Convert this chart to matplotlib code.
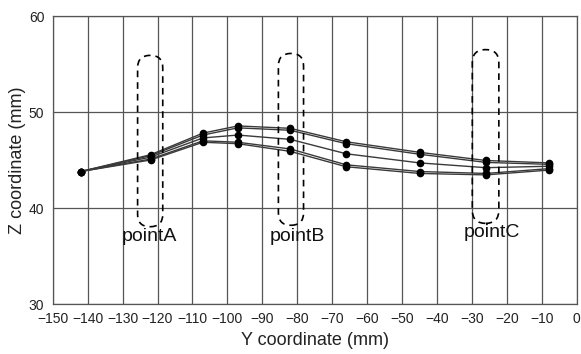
import numpy as np
import matplotlib
matplotlib.use('Agg')
import matplotlib.pyplot as plt
from matplotlib.patches import FancyBboxPatch

plt.rcParams['font.family'] = ['Liberation Sans', 'DejaVu Sans']

# measurement positions (Y coordinate, mm)
ycoord = [-142, -122, -107, -97, -82, -66, -45, -26, -8]

# Z coordinate of each profile (mm)
z1 = [43.8, 45.55, 47.8, 48.55, 48.3, 46.9, 45.8, 44.95, 44.7]
z2 = [43.8, 45.45, 47.6, 48.35, 48.1, 46.7, 45.6, 44.75, 44.55]
z3 = [43.8, 45.3, 47.3, 47.6, 47.15, 45.65, 44.7, 44.2, 44.35]
z4 = [43.8, 45.1, 47.0, 46.85, 46.15, 44.5, 43.8, 43.6, 44.1]
z5 = [43.8, 45.0, 46.85, 46.7, 45.9, 44.3, 43.6, 43.45, 43.95]

# highlighted regions: label, centre, half width, bottom, top
point_names = ['pointA', 'pointB', 'pointC']
point_x = [-122.1, -81.8, -26.1]
point_halfw = [3.6, 3.6, 3.8]
point_lo = [38.05, 38.2, 38.4]
point_hi = [55.9, 56.1, 56.5]
label_x = [-122.3, -80.0, -24.4]
label_y = [37.0, 37.0, 37.4]

fig = plt.figure(figsize=(5.81, 3.54), dpi=100)
ax = fig.add_axes([0.0907, 0.1412, 0.902, 0.8136])

for z in [z1, z2, z3, z4, z5]:
    ax.plot(ycoord, z, '-', color='#3a3a3a', lw=1.0, marker='o', ms=4.5,
            mfc='black', mec='black', zorder=3)

for name, xc, hw, lo, hi, lx, ly in zip(point_names, point_x, point_halfw,
                                        point_lo, point_hi, label_x, label_y):
    box = FancyBboxPatch((xc - hw, lo), 2 * hw, hi - lo,
                         boxstyle='round,pad=0,rounding_size=%g' % hw,
                         mutation_aspect=0.36, fill=False, ec='black',
                         lw=1.2, ls=(0, (4, 3)), zorder=4)
    ax.add_patch(box)
    ax.text(lx, ly, name, ha='center', va='center', fontsize=14, color='#111111')

ax.set_xlim(-150, 0)
ax.set_ylim(30, 60)
ax.set_xticks(np.arange(-150, 1, 10))
ax.set_yticks([30, 40, 50, 60])
ax.grid(True, color='#555555', lw=0.9)
ax.set_axisbelow(True)
for s in ax.spines.values():
    s.set_color('#555555')
    s.set_linewidth(0.9)
ax.tick_params(length=0, labelsize=10, colors='#222222', pad=6)
ax.set_xlabel('Y coordinate (mm)', fontsize=13, color='#222222', labelpad=4)
ax.set_ylabel('Z coordinate (mm)', fontsize=13, color='#222222', labelpad=2)

fig.savefig('out.png', dpi=100)
